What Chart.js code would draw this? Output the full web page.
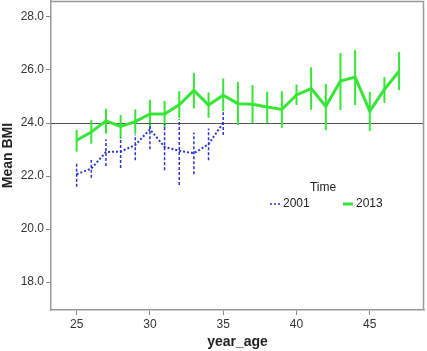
<!DOCTYPE html>
<html>
<head>
<meta charset="utf-8">
<script src="https://cdn.jsdelivr.net/npm/chart.js@4"></script>
<style>
  body { margin: 0; background: #fff; }
  #wrap { width: 427px; height: 351px; }
</style>
</head>
<body>
<div id="wrap"><canvas id="bmiChart" width="427" height="351"></canvas></div>
<script>
// year_age values and mean BMI per survey
const ages2001 = [25, 26, 27, 28, 29, 30, 31, 32, 33, 34, 35];
const bmi2001 = [22.07, 22.28, 22.91, 22.92, 23.17, 23.76, 23.10, 22.95, 22.86, 23.20, 24.01];
const low2001 = [21.60, 21.94, 22.38, 22.30, 22.60, 23.01, 22.22, 21.66, 22.07, 22.60, 23.55];
const high2001 = [22.51, 22.61, 23.39, 23.45, 23.57, 24.00, 23.97, 24.14, 23.64, 23.79, 24.41];

const ages2013 = [25, 26, 27, 28, 29, 30, 31, 32, 33, 34, 35, 36, 37, 38, 39, 40, 41, 42, 43, 44, 45, 46, 47];
const bmi2013 = [23.35, 23.66, 24.08, 23.87, 24.05, 24.34, 24.34, 24.69, 25.23, 24.68, 25.05, 24.73, 24.71, 24.60, 24.51, 25.06, 25.30, 24.63, 25.58, 25.73, 24.45, 25.27, 25.95];
const low2013 = [22.92, 23.22, 23.60, 23.41, 23.60, 23.79, 23.82, 24.18, 24.55, 24.20, 24.45, 23.92, 23.99, 23.99, 23.82, 24.68, 24.50, 23.73, 24.49, 24.68, 23.70, 24.76, 25.24];
const high2013 = [23.74, 24.11, 24.54, 24.30, 24.51, 24.88, 24.83, 25.20, 25.88, 25.15, 25.68, 25.55, 25.43, 25.18, 25.20, 25.45, 26.10, 25.47, 26.64, 26.76, 25.18, 25.73, 26.68];

const xTicks = [25, 30, 35, 40, 45];
const yTicks = [18, 20, 22, 24, 26, 28];
const refLine = 24;

const BLUE = '#2a35c8';
const GREEN = '#36e636';
const FONT = '"Liberation Sans", Arial, sans-serif';

function toPoints(xs, ys) {
    return xs.map((x, i) => ({ x: x, y: ys[i] }));
}

// error bars, reference line, frame and legend
const extras = {
    id: 'extras',
    beforeDatasetsDraw(chart) {
        const ctx = chart.ctx;
        const xs = chart.scales.x;
        const ys = chart.scales.y;
        const area = chart.chartArea;
        ctx.save();
        // reference line
        ctx.strokeStyle = '#555';
        ctx.lineWidth = 1;
        const yr = Math.round(ys.getPixelForValue(refLine)) + 0.5;
        ctx.beginPath();
        ctx.moveTo(area.left, yr);
        ctx.lineTo(area.right, yr);
        ctx.stroke();

        const bars = [
            { xs: ages2013, lo: low2013, hi: high2013, color: GREEN, width: 2, dash: [] },
            { xs: ages2001, lo: low2001, hi: high2001, color: BLUE, width: 1.5, dash: [3, 2] }
        ];
        bars.forEach(b => {
            ctx.strokeStyle = b.color;
            ctx.lineWidth = b.width;
            ctx.setLineDash(b.dash);
            b.xs.forEach((x, i) => {
                const px = xs.getPixelForValue(x);
                ctx.beginPath();
                ctx.moveTo(px, ys.getPixelForValue(b.lo[i]));
                ctx.lineTo(px, ys.getPixelForValue(b.hi[i]));
                ctx.stroke();
            });
        });
        ctx.restore();
    },
    afterDraw(chart) {
        const ctx = chart.ctx;
        const area = chart.chartArea;
        ctx.save();
        // frame top/right
        ctx.strokeStyle = '#999';
        ctx.lineWidth = 1.5;
        ctx.beginPath();
        ctx.moveTo(area.left, area.top + 0.5);
        ctx.lineTo(area.right - 0.5, area.top + 0.5);
        ctx.lineTo(area.right - 0.5, area.bottom);
        ctx.stroke();

        // legend
        ctx.fillStyle = '#222';
        ctx.font = '12px ' + FONT;
        ctx.textBaseline = 'middle';
        ctx.textAlign = 'center';
        ctx.fillText('Time', 323, 188);
        ctx.textAlign = 'left';
        ctx.fillText('2001', 283, 204);
        ctx.fillText('2013', 356, 204);
        ctx.strokeStyle = BLUE;
        ctx.lineWidth = 1.5;
        ctx.setLineDash([2, 2]);
        ctx.beginPath();
        ctx.moveTo(270, 204);
        ctx.lineTo(281, 204);
        ctx.stroke();
        ctx.setLineDash([]);
        ctx.strokeStyle = GREEN;
        ctx.lineWidth = 3;
        ctx.beginPath();
        ctx.moveTo(343, 204);
        ctx.lineTo(353, 204);
        ctx.stroke();
        ctx.restore();
    }
};

const ctx = document.getElementById('bmiChart').getContext('2d');
new Chart(ctx, {
    type: 'line',
    data: {
        datasets: [
            {
                label: '2013',
                data: toPoints(ages2013, bmi2013),
                borderColor: GREEN,
                borderWidth: 3,
                pointRadius: 0,
                tension: 0,
                fill: false
            },
            {
                label: '2001',
                data: toPoints(ages2001, bmi2001),
                borderColor: BLUE,
                borderWidth: 2,
                borderDash: [2, 2],
                pointRadius: 0,
                tension: 0,
                fill: false
            }
        ]
    },
    options: {
        responsive: false,
        animation: false,
        layout: { padding: { top: 1, right: 3, left: 0, bottom: 0 } },
        plugins: {
            legend: { display: false },
            tooltip: { enabled: false }
        },
        scales: {
            x: {
                type: 'linear',
                min: 23.25,
                max: 48.7,
                afterBuildTicks: s => { s.ticks = xTicks.map(v => ({ value: v })); },
                afterFit: s => { s.height = 41; s.paddingLeft = 0; s.paddingRight = 0; },
                grid: { display: true, drawOnChartArea: false, tickLength: 5, color: '#888' },
                border: { color: '#999', width: 1.5 },
                ticks: { color: '#333', font: { family: FONT, size: 12 }, padding: 2 },
                title: {
                    display: true,
                    text: 'year_age',
                    color: '#222',
                    font: { family: FONT, size: 14, weight: 'bold' },
                    padding: { top: 2, bottom: 0 }
                }
            },
            y: {
                min: 16.95,
                max: 28.6,
                afterBuildTicks: s => { s.ticks = yTicks.map(v => ({ value: v })); },
                afterFit: s => { s.width = 51; s.paddingTop = 0; s.paddingBottom = 0; },
                grid: { display: true, drawOnChartArea: false, tickLength: 5, color: '#888' },
                border: { color: '#999', width: 1.5 },
                ticks: {
                    color: '#333',
                    font: { family: FONT, size: 12 },
                    padding: 2,
                    callback: v => v.toFixed(1)
                },
                title: {
                    display: true,
                    text: 'Mean BMI',
                    color: '#222',
                    font: { family: FONT, size: 14, weight: 'bold' },
                    padding: { top: 0, bottom: 0 }
                }
            }
        }
    },
    plugins: [extras]
});
</script>
</body>
</html>
